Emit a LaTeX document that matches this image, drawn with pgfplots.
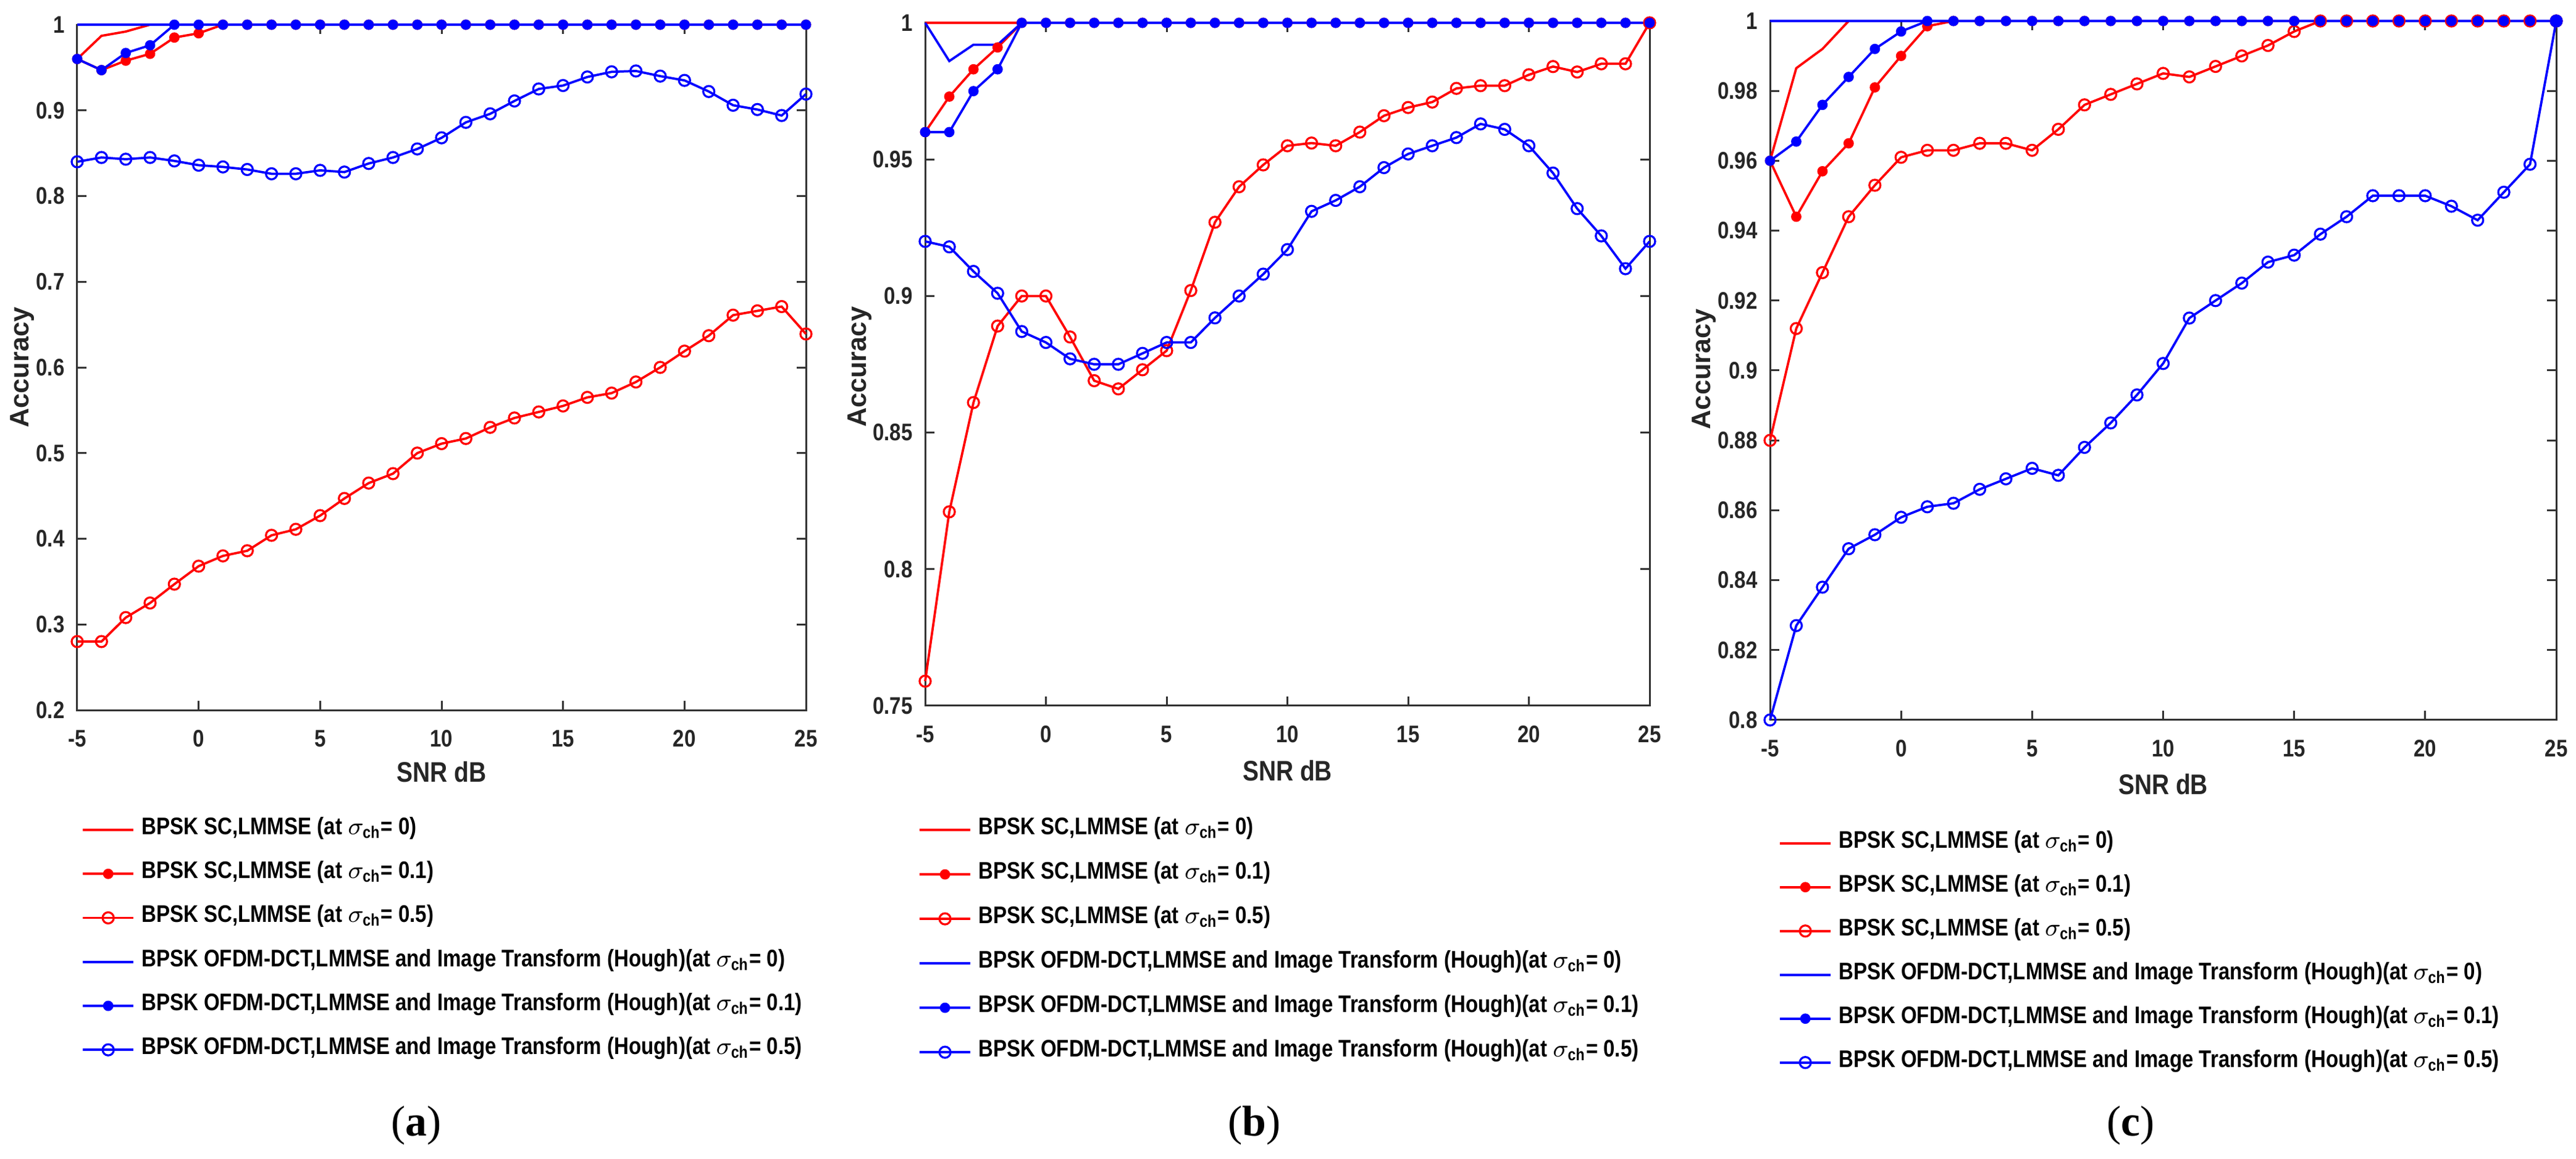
\documentclass[border=0pt]{standalone}
\usepackage{fontspec}
\usepackage{amsmath}
\usepackage{pgfplots}
\usepackage{pgfplotstable}
\pgfplotsset{compat=1.18}
\setmainfont{Liberation Sans}[FakeStretch=0.85]
\newfontfamily\ylfont{Liberation Sans}
\newfontfamily\capfont{Liberation Serif}

\pgfplotstableread{
x r0 r1 r5 b0 b1 b5
-5 0.96 0.96 0.28 1 0.96 0.84
-4 0.987 0.947 0.28 1 0.947 0.845
-3 0.992 0.958 0.308 1 0.967 0.843
-2 1 0.966 0.325 1 0.976 0.845
-1 1 0.985 0.347 1 1 0.841
0 1 0.99 0.368 1 1 0.836
1 1 1 0.38 1 1 0.834
2 1 1 0.386 1 1 0.831
3 1 1 0.404 1 1 0.826
4 1 1 0.411 1 1 0.826
5 1 1 0.427 1 1 0.830
6 1 1 0.447 1 1 0.828
7 1 1 0.465 1 1 0.838
8 1 1 0.476 1 1 0.845
9 1 1 0.5 1 1 0.855
10 1 1 0.511 1 1 0.868
11 1 1 0.517 1 1 0.886
12 1 1 0.53 1 1 0.896
13 1 1 0.541 1 1 0.911
14 1 1 0.548 1 1 0.925
15 1 1 0.555 1 1 0.929
16 1 1 0.565 1 1 0.939
17 1 1 0.57 1 1 0.945
18 1 1 0.583 1 1 0.946
19 1 1 0.6 1 1 0.94
20 1 1 0.619 1 1 0.935
21 1 1 0.637 1 1 0.922
22 1 1 0.661 1 1 0.906
23 1 1 0.666 1 1 0.901
24 1 1 0.671 1 1 0.894
25 1 1 0.639 1 1 0.919
}\tabA

\pgfplotstableread{
x r0 r1 r5 b0 b1 b5
-5 1 0.96 0.759 1 0.96 0.92
-4 1 0.973 0.821 0.986 0.96 0.918
-3 1 0.983 0.861 0.992 0.975 0.909
-2 1 0.991 0.889 0.992 0.983 0.901
-1 1 1 0.9 1 1 0.887
0 1 1 0.9 1 1 0.883
1 1 1 0.885 1 1 0.877
2 1 1 0.869 1 1 0.875
3 1 1 0.866 1 1 0.875
4 1 1 0.873 1 1 0.879
5 1 1 0.88 1 1 0.883
6 1 1 0.902 1 1 0.883
7 1 1 0.927 1 1 0.892
8 1 1 0.94 1 1 0.9
9 1 1 0.948 1 1 0.908
10 1 1 0.955 1 1 0.917
11 1 1 0.956 1 1 0.931
12 1 1 0.955 1 1 0.935
13 1 1 0.96 1 1 0.94
14 1 1 0.966 1 1 0.947
15 1 1 0.969 1 1 0.952
16 1 1 0.971 1 1 0.955
17 1 1 0.976 1 1 0.958
18 1 1 0.977 1 1 0.963
19 1 1 0.977 1 1 0.961
20 1 1 0.981 1 1 0.955
21 1 1 0.984 1 1 0.945
22 1 1 0.982 1 1 0.932
23 1 1 0.985 1 1 0.922
24 1 1 0.985 1 1 0.91
25 1 1 1 1 1 0.92
}\tabB

\pgfplotstableread{
x r0 r1 r5 b0 b1 b5
-5 0.96 0.96 0.88 1 0.96 0.8
-4 0.9865 0.944 0.912 1 0.9655 0.827
-3 0.992 0.957 0.928 1 0.976 0.838
-2 1 0.965 0.944 1 0.984 0.849
-1 1 0.981 0.953 1 0.992 0.853
0 1 0.99 0.961 1 0.997 0.858
1 1 0.9985 0.963 1 1 0.861
2 1 1 0.963 1 1 0.862
3 1 1 0.965 1 1 0.866
4 1 1 0.965 1 1 0.869
5 1 1 0.963 1 1 0.872
6 1 1 0.969 1 1 0.87
7 1 1 0.976 1 1 0.878
8 1 1 0.979 1 1 0.885
9 1 1 0.982 1 1 0.893
10 1 1 0.985 1 1 0.902
11 1 1 0.984 1 1 0.915
12 1 1 0.987 1 1 0.92
13 1 1 0.99 1 1 0.925
14 1 1 0.993 1 1 0.931
15 1 1 0.997 1 1 0.933
16 1 1 1 1 1 0.939
17 1 1 1 1 1 0.944
18 1 1 1 1 1 0.95
19 1 1 1 1 1 0.95
20 1 1 1 1 1 0.95
21 1 1 1 1 1 0.947
22 1 1 1 1 1 0.943
23 1 1 1 1 1 0.951
24 1 1 1 1 1 0.959
25 1 1 1 1 1 1
}\tabC

\pgfplotsset{
  r0/.style={color=red, line width=0.75bp, mark=none},
  r1/.style={color=red, line width=0.75bp, mark=*, mark size=1.3bp, mark options={solid, fill=red}},
  r5/.style={color=red, line width=0.75bp, mark=o, mark size=1.8bp, mark options={solid, line width=0.65bp}},
  b0/.style={color=blue, line width=0.75bp, mark=none},
  b1/.style={color=blue, line width=0.75bp, mark=*, mark size=1.3bp, mark options={solid, fill=blue}},
  b5/.style={color=blue, line width=0.75bp, mark=o, mark size=1.8bp, mark options={solid, line width=0.65bp}},
  panel/.style={
    scale only axis,
    anchor=south west,
    xmin=-5, xmax=25,
    xtick={-5,0,5,10,15,20,25},
    clip=false,
    tick align=inside,
    xtick pos=both, ytick pos=both,
    major tick length=3bp,
    axis line style={black!80, line width=0.6bp},
    every tick/.style={black!80, line width=0.6bp},
    /pgf/number format/assume math mode=true,
    ticklabel style={font=\bfseries\fontsize{7.8}{8}\selectfont, black!85},
    xticklabel style={yshift=-3bp},
    yticklabel style={xshift=-0.6bp},
    xlabel={SNR dB},
    ylabel={Accuracy},
    xlabel style={font=\bfseries\fontsize{9.2}{10}\selectfont, black!85, anchor=center},
    ylabel style={font=\ylfont\bfseries\fontsize{8.7}{10}\selectfont, black!85, anchor=center},
    legend cell align=left,
    legend image code/.code={\draw[mark repeat=2,mark phase=2,##1] plot coordinates {(0bp,0bp) (8.25bp,0bp) (16.5bp,0bp)};},
    legend style={draw=none, fill=none, inner sep=0pt, outer sep=0pt,
      font=\bfseries\fontsize{7.8}{9}\selectfont,
      row sep=7.2bp,
      nodes={inner sep=0pt, text height=5bp, text depth=2bp},
      anchor=north west,
      /tikz/every odd column/.append style={column sep=2.2bp}},
  },
}

\newcommand{\legentries}{
  \legend{{BPSK SC,LMMSE (at $\sigma_{\text{ch}}$= 0)},
          {BPSK SC,LMMSE (at $\sigma_{\text{ch}}$= 0.1)},
          {BPSK SC,LMMSE (at $\sigma_{\text{ch}}$= 0.5)},
          {BPSK OFDM-DCT,LMMSE and Image Transform (Hough)(at $\sigma_{\text{ch}}$= 0)},
          {BPSK OFDM-DCT,LMMSE and Image Transform (Hough)(at $\sigma_{\text{ch}}$= 0.1)},
          {BPSK OFDM-DCT,LMMSE and Image Transform (Hough)(at $\sigma_{\text{ch}}$= 0.5)}}
}

\begin{document}
\begin{tikzpicture}
\useasboundingbox (0,0) rectangle (834.2bp,375.4bp);

% Panel (a)
\begin{axis}[panel,
  at={(25bp,145.4bp)}, width=236bp, height=222bp,
  ymin=0.2, ymax=1, ytick={0.2,0.3,0.4,0.5,0.6,0.7,0.8,0.9,1},
  xlabel style={at={(axis description cs:0.5,-0.09)}},
  ylabel style={at={(axis description cs:-0.0754,0.5)}},
  legend style={at={(axis description cs:0.006,-0.159)}, row sep=7.25bp},
]
\addplot[r0] table[x=x,y=r0] {\tabA};
\addplot[r1] table[x=x,y=r1] {\tabA};
\addplot[r5] table[x=x,y=r5] {\tabA};
\addplot[b0] table[x=x,y=b0] {\tabA};
\addplot[b1] table[x=x,y=b1] {\tabA};
\addplot[b5] table[x=x,y=b5] {\tabA};
\legentries
\end{axis}

% Panel (b)
\begin{axis}[panel,
  at={(299.6bp,146.8bp)}, width=234.6bp, height=221.2bp,
  ymin=0.75, ymax=1, ytick={0.75,0.8,0.85,0.9,0.95,1},
  xlabel style={at={(axis description cs:0.5,-0.095)}},
  ylabel style={at={(axis description cs:-0.09,0.496)}},
  legend style={at={(axis description cs:-0.0094,-0.166)}, row sep=7.4bp},
]
\addplot[r0] table[x=x,y=r0] {\tabB};
\addplot[r1] table[x=x,y=r1] {\tabB};
\addplot[r5] table[x=x,y=r5] {\tabB};
\addplot[b0] table[x=x,y=b0] {\tabB};
\addplot[b1] table[x=x,y=b1] {\tabB};
\addplot[b5] table[x=x,y=b5] {\tabB};
\legentries
\end{axis}

% Panel (c)
\begin{axis}[panel,
  at={(573.2bp,142.2bp)}, width=254.6bp, height=226.4bp,
  ymin=0.8, ymax=1, ytick={0.8,0.82,0.84,0.86,0.88,0.9,0.92,0.94,0.96,0.98,1},
  xlabel style={at={(axis description cs:0.5,-0.092)}},
  ylabel style={at={(axis description cs:-0.084,0.502)}},
  legend style={at={(axis description cs:0.011,-0.161)}, row sep=7.2bp},
]
\addplot[r0] table[x=x,y=r0] {\tabC};
\addplot[r1] table[x=x,y=r1] {\tabC};
\addplot[r5] table[x=x,y=r5] {\tabC};
\addplot[b0] table[x=x,y=b0] {\tabC};
\addplot[b1] table[x=x,y=b1] {\tabC};
\addplot[b5] table[x=x,y=b5] {\tabC};
\legentries
\end{axis}

\node[font=\capfont\fontsize{14}{16}\selectfont] at (134.8bp,10.8bp) {(\textbf{a})};
\node[font=\capfont\fontsize{14}{16}\selectfont] at (406.2bp,10.8bp) {(\textbf{b})};
\node[font=\capfont\fontsize{14}{16}\selectfont] at (690bp,10.8bp) {(\textbf{c})};
\end{tikzpicture}
\end{document}
